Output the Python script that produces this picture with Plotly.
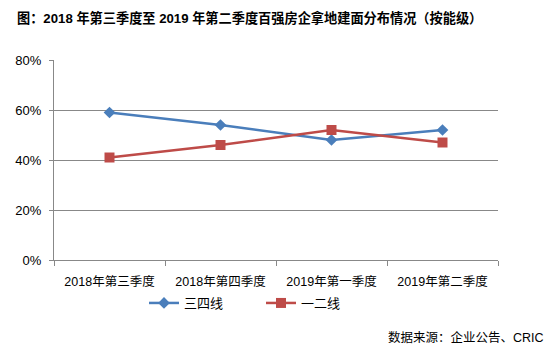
import plotly.graph_objects as go

quarters = ["2018年第三季度", "2018年第四季度", "2019年第一季度", "2019年第二季度"]
tier34 = [0.59, 0.54, 0.48, 0.52]   # 三四线
tier12 = [0.41, 0.46, 0.52, 0.47]   # 一二线
y_ticks = [0, 0.2, 0.4, 0.6, 0.8]

FONT = "Liberation Sans, Arial, Noto Sans CJK SC, sans-serif"

fig = go.Figure()
fig.add_trace(go.Scatter(
    x=quarters, y=tier34, name="三四线", mode="lines+markers",
    line=dict(color="#4A7EBB", width=2.5),
    marker=dict(symbol="diamond", size=9, color="#4A7EBB"),
))
fig.add_trace(go.Scatter(
    x=quarters, y=tier12, name="一二线", mode="lines+markers",
    line=dict(color="#BE4B48", width=2.5),
    marker=dict(symbol="square", size=10, color="#BE4B48"),
))

fig.update_layout(
    width=554, height=350,
    margin=dict(l=54, r=56, t=60, b=90),
    paper_bgcolor="white", plot_bgcolor="white",
    font=dict(family=FONT, size=13, color="black"),
    title=dict(
        text="<b>图：2018 年第三季度至 2019 年第二季度百强房企拿地建面分布情况（按能级）</b>",
        x=17 / 554, xanchor="left", xref="container",
        y=1 - 18 / 350, yanchor="middle", yref="container",
        font=dict(family=FONT, size=13.2, color="black"),
    ),
    xaxis=dict(
        type="category", range=[-0.5, 3.5],
        showgrid=False, showline=True, linecolor="#888", linewidth=1,
        ticks="outside", tickson="boundaries", ticklen=5, tickcolor="#888",
        ticklabelstandoff=10,
        tickfont=dict(size=12.5), fixedrange=True,
    ),
    yaxis=dict(
        range=[0, 0.8], tickvals=y_ticks, tickformat=".0%",
        showgrid=True, gridcolor="#888", gridwidth=1,
        showline=True, linecolor="#888", linewidth=1,
        ticks="outside", ticklen=4, tickcolor="#888",
        ticklabelstandoff=5,
        zeroline=False, tickfont=dict(size=13),
    ),
    legend=dict(
        orientation="h", x=(144 - 54) / 444, xanchor="left",
        y=(260 - 303) / 200, yanchor="middle",
        font=dict(size=13), itemwidth=30, entrywidth=72, entrywidthmode="pixels",
        bgcolor="rgba(0,0,0,0)",
    ),
    showlegend=True,
)

fig.add_annotation(
    text="数据来源：企业公告、CRIC", xref="paper", yref="paper",
    x=(546 - 54) / 444, xanchor="right",
    y=(260 - 337) / 200, yanchor="middle",
    showarrow=False, font=dict(size=12.5, color="black"),
)

fig.write_html("out.html")
